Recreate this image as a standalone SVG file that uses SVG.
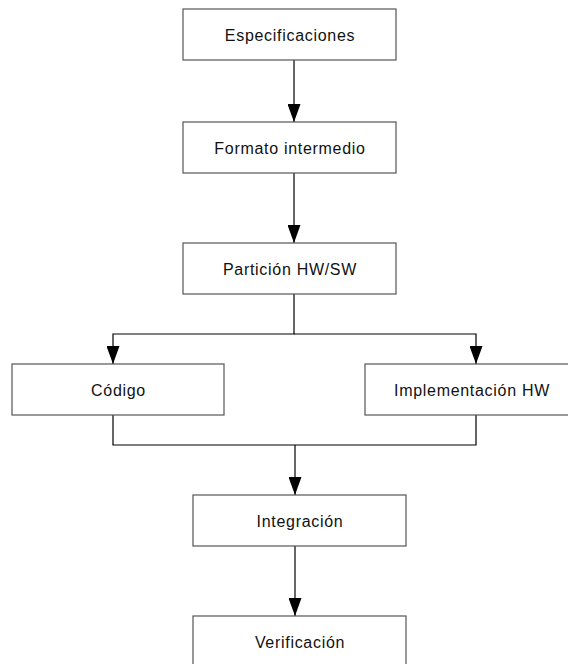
<svg xmlns="http://www.w3.org/2000/svg" width="568" height="664" viewBox="0 0 568 664">
<style>
.box{fill:#fff;stroke:#555;stroke-width:1.2}
.lbl{font-family:"Liberation Sans",Arial,sans-serif;font-size:16px;letter-spacing:0.7px;fill:#111;text-anchor:middle}
.ln{fill:none;stroke:#000;stroke-width:1.2}
</style>
<defs>
<marker id="ah" markerUnits="userSpaceOnUse" markerWidth="18" markerHeight="13" refX="18" refY="6.5" orient="auto" viewBox="0 0 18 13">
<path d="M0,0 L18,6.5 L0,13 Z" fill="#000"/>
</marker>
</defs>
<rect width="568" height="664" fill="#fff"/>
<g id="connectors">
<line class="ln" x1="294" y1="60" x2="294" y2="122" marker-end="url(#ah)"/>
<line class="ln" x1="294" y1="173" x2="294" y2="243" marker-end="url(#ah)"/>
<polyline class="ln" points="294,294 294,334 113,334 113,364" marker-end="url(#ah)"/>
<polyline class="ln" points="294,334 476,334 476,364" marker-end="url(#ah)"/>
<polyline class="ln" points="113,415 113,445 476,445 476,415"/>
<line class="ln" x1="295" y1="445" x2="295" y2="495" marker-end="url(#ah)"/>
<line class="ln" x1="295" y1="546" x2="295" y2="616" marker-end="url(#ah)"/>
</g>
<g id="n1"><rect class="box" x="183" y="9" width="213" height="51"/><text class="lbl" x="290" y="41">Especificaciones</text></g>
<g id="n2"><rect class="box" x="183" y="122" width="213" height="51"/><text class="lbl" x="290" y="154">Formato intermedio</text></g>
<g id="n3"><rect class="box" x="183" y="243" width="213" height="51"/><text class="lbl" x="290" y="275">Partición HW/SW</text></g>
<g id="n4"><rect class="box" x="12" y="364" width="212" height="51"/><text class="lbl" x="118.5" y="396">Código</text></g>
<g id="n5"><rect class="box" x="365" y="364" width="213" height="51"/><text class="lbl" x="472" y="396">Implementación HW</text></g>
<g id="n6"><rect class="box" x="193" y="495" width="213" height="51"/><text class="lbl" x="300" y="527">Integración</text></g>
<g id="n7"><rect class="box" x="193" y="616" width="213" height="51"/><text class="lbl" x="300" y="648">Verificación</text></g>
</svg>
